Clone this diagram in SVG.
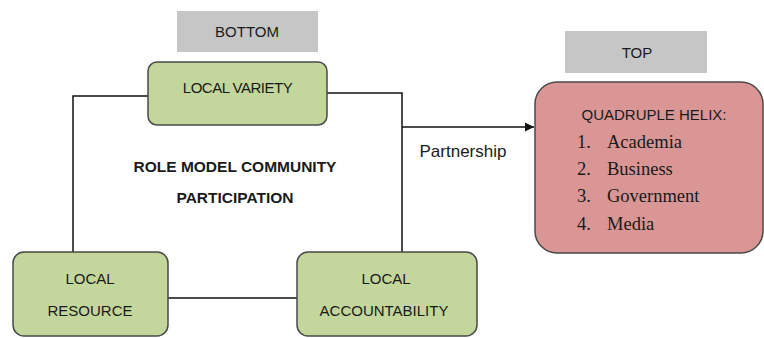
<svg xmlns="http://www.w3.org/2000/svg" width="764" height="338" viewBox="0 0 764 338">
<defs>
<style>
.lbl{font-family:"Liberation Sans",Arial,sans-serif;font-size:15px;fill:#1a1a1a;text-anchor:middle}
.green{fill:#c3d69b;stroke:#4a4a4a;stroke-width:1.5}
.gray{fill:#c6c6c6}
.pink{fill:#d99694;stroke:#4a4a4a;stroke-width:1.5}
.conn{fill:none;stroke:#111;stroke-width:1.5}
.serif{font-family:"Liberation Serif","Times New Roman",serif;font-size:18.5px;fill:#1a1a1a}
</style>
<marker id="arr" viewBox="0 0 10 10" refX="10" refY="5" markerWidth="9" markerHeight="10" markerUnits="userSpaceOnUse" orient="auto">
<path d="M0,0 L10,5 L0,10 z" fill="#111"/>
</marker>
</defs>
<rect width="764" height="338" fill="#fff"/>
<g id="connectors">
<polyline class="conn" points="148,96 73,96 73,252"/>
<polyline class="conn" points="327,93 402,93 402,252"/>
<line class="conn" x1="168" y1="298" x2="297" y2="298"/>
<line class="conn" x1="402" y1="127" x2="534" y2="127" marker-end="url(#arr)"/>
<text class="lbl" x="463" y="157" style="font-size:17px">Partnership</text>
</g>
<g id="bottom-label">
<rect class="gray" x="177" y="11" width="141" height="41"/>
<text class="lbl" x="247" y="37">BOTTOM</text>
</g>
<g id="top-label">
<rect class="gray" x="565" y="31" width="142" height="42"/>
<text class="lbl" x="637" y="58">TOP</text>
</g>
<g id="local-variety">
<rect class="green" x="148" y="62" width="179" height="63" rx="9"/>
<text class="lbl" x="237.5" y="93" letter-spacing="-0.5">LOCAL VARIETY</text>
</g>
<g id="local-resource">
<rect class="green" x="13" y="252" width="155" height="84" rx="11"/>
<text class="lbl" x="90" y="284">LOCAL</text>
<text class="lbl" x="90" y="316">RESOURCE</text>
</g>
<g id="local-accountability">
<rect class="green" x="297" y="252" width="180" height="84" rx="11"/>
<text class="lbl" x="386" y="284">LOCAL</text>
<text class="lbl" x="384" y="316">ACCOUNTABILITY</text>
</g>
<g id="center-title">
<text class="lbl" x="235" y="172" style="font-weight:bold;font-size:15.5px">ROLE MODEL COMMUNITY</text>
<text class="lbl" x="235" y="203" style="font-weight:bold;font-size:15.5px">PARTICIPATION</text>
</g>
<g id="quadruple-helix">
<rect class="pink" x="535" y="82" width="228" height="171" rx="22"/>
<text class="lbl" x="654" y="120">QUADRUPLE HELIX:</text>
<text class="serif" x="577" y="148">1.</text>
<text class="serif" x="607" y="148">Academia</text>
<text class="serif" x="577" y="175">2.</text>
<text class="serif" x="607" y="175">Business</text>
<text class="serif" x="577" y="202">3.</text>
<text class="serif" x="607" y="202">Government</text>
<text class="serif" x="577" y="230">4.</text>
<text class="serif" x="607" y="230">Media</text>
</g>
</svg>
